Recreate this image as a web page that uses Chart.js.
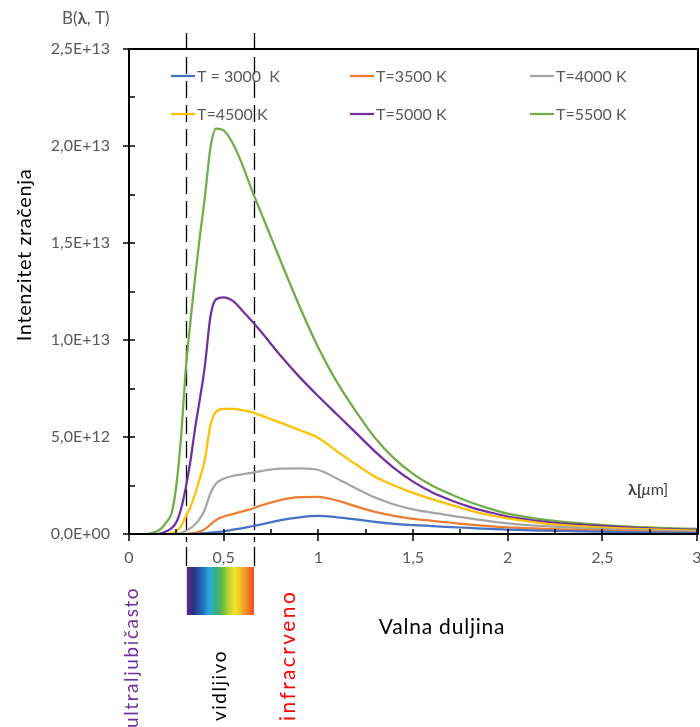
<!DOCTYPE html>
<html>
<head>
<meta charset="utf-8">
<script src="https://cdn.jsdelivr.net/npm/chart.js@4.4.1/dist/chart.umd.min.js"></script>
<style>
html, body { margin: 0; padding: 0; background: #fff; }
#wrap { width: 700px; height: 727px; position: relative; }
</style>
</head>
<body>
<div id="wrap"><canvas id="planck"></canvas></div>
<script>
// wavelength in µm, intensities in units of 1E+12
const UNIT = 1e12;
const lambda = [0.1, 0.15, 0.175, 0.2, 0.225, 0.25, 0.275, 0.3, 0.325, 0.35, 0.375, 0.4, 0.43, 0.46, 0.5, 0.55, 0.6, 0.65, 0.7, 0.8, 0.9, 1.0, 1.1, 1.2, 1.3, 1.4, 1.5, 1.6, 1.7, 1.8, 1.9, 2.0, 2.2, 2.4, 2.6, 2.8, 3.0];

const t3000 = [null, null, null, null, null, null, null, null, 0, 0.01, 0.02, 0.04, 0.07, 0.1, 0.14, 0.22, 0.3, 0.4, 0.5, 0.72, 0.86, 0.93, 0.86, 0.75, 0.62, 0.52, 0.46, 0.41, 0.36, 0.31, 0.26, 0.22, 0.17, 0.13, 0.1, 0.07, 0.04];
const t3500 = [null, null, null, null, null, null, null, 0, 0.03, 0.06, 0.12, 0.25, 0.48, 0.72, 0.9, 1.03, 1.17, 1.3, 1.48, 1.75, 1.9, 1.92, 1.72, 1.42, 1.14, 0.93, 0.78, 0.68, 0.58, 0.48, 0.4, 0.34, 0.26, 0.2, 0.15, 0.11, 0.07];
const t4000 = [null, null, null, null, null, 0, 0.05, 0.15, 0.3, 0.5, 0.8, 1.25, 2.1, 2.6, 2.85, 3.0, 3.08, 3.15, 3.25, 3.37, 3.38, 3.3, 2.85, 2.35, 1.88, 1.52, 1.27, 1.1, 0.95, 0.8, 0.66, 0.55, 0.4, 0.29, 0.21, 0.16, 0.12];
const t4500 = [null, null, null, 0, 0.05, 0.15, 0.4, 0.9, 1.4, 2.1, 2.9, 3.8, 5.6, 6.3, 6.45, 6.45, 6.38, 6.28, 6.1, 5.74, 5.36, 4.95, 4.25, 3.58, 2.95, 2.5, 2.12, 1.8, 1.5, 1.22, 0.98, 0.8, 0.54, 0.39, 0.29, 0.22, 0.17];
const t5000 = [null, 0, 0.05, 0.15, 0.3, 0.6, 1.3, 2.4, 3.8, 5.5, 7.0, 8.6, 11.2, 12.1, 12.2, 12.0, 11.5, 10.97, 10.4, 9.2, 8.1, 7.1, 6.15, 5.2, 4.25, 3.4, 2.7, 2.15, 1.74, 1.4, 1.13, 0.9, 0.63, 0.47, 0.36, 0.27, 0.21];
const t5500 = [0, 0.15, 0.33, 0.65, 1.07, 2.5, 5.0, 8.5, 11.0, 13.3, 15.4, 17.3, 19.9, 20.9, 20.8, 20.1, 19.0, 17.7, 16.5, 14.1, 11.75, 9.6, 7.8, 6.3, 4.95, 3.9, 3.1, 2.5, 2.05, 1.65, 1.32, 1.05, 0.73, 0.54, 0.41, 0.32, 0.26];

const seriesNames = ['T = 3000  K', 'T=3500 K', 'T=4000 K', 'T=4500 K', 'T=5000 K', 'T=5500 K'];
const seriesData = [t3000, t3500, t4000, t4500, t5000, t5500];
const colors = ['#4472C4', '#ED7D31', '#A5A5A5', '#FFC000', '#7030A0', '#70AD47'];

const visibleRange = [0.3, 0.66];   // dashed lines
const yTicks = [0, 5, 10, 15, 20, 25];

const FONT = 'Lato, "Open Sans", sans-serif';
const GRAY = '#595959';

function sciLabel(v) {
    if (v === 0) return '0,0E+00';
    const e = Math.floor(Math.log10(v) + 1e-9);
    const m = v / Math.pow(10, e);
    return m.toFixed(1).replace('.', ',') + 'E+' + String(e).padStart(2, '0');
}

const datasets = seriesData.map((vals, i) => ({
    label: seriesNames[i],
    data: lambda.map((x, j) => ({ x: x, y: vals[j] === null ? null : vals[j] * UNIT })),
    borderColor: colors[i],
    backgroundColor: colors[i],
    borderWidth: 2.25,
    pointRadius: 0,
    cubicInterpolationMode: 'monotone',
    fill: false
}));

function vText(ctx, text, x, y, color, font, spacing) {
    ctx.save();
    ctx.translate(x, y);
    ctx.rotate(-Math.PI / 2);
    ctx.font = font;
    ctx.fillStyle = color;
    ctx.letterSpacing = spacing || '0px';
    ctx.textAlign = 'left';
    ctx.textBaseline = 'middle';
    ctx.fillText(text, 0, 0);
    ctx.restore();
}

const decor = {
    id: 'decor',
    beforeDatasetsDraw(chart) {
        const ctx = chart.ctx, xs = chart.scales.x;
        ctx.save();
        ctx.strokeStyle = '#000';
        ctx.lineWidth = 1.3;
        visibleRange.forEach(v => {
            const px = Math.round(xs.getPixelForValue(v)) + 0.5;
            ctx.setLineDash([17, 7]);
            ctx.beginPath();
            ctx.moveTo(px, 33);
            ctx.lineTo(px, 542);
            ctx.stroke();
            ctx.setLineDash([]);
            ctx.beginPath();
            ctx.moveTo(px, 547);
            ctx.lineTo(px, 566);
            ctx.stroke();
        });
        ctx.restore();
    },
    afterDatasetsDraw(chart) {
        const ctx = chart.ctx, a = chart.chartArea;
        const xs = chart.scales.x, ys = chart.scales.y;
        ctx.save();
        ctx.strokeStyle = '#000';
        // frame
        ctx.lineWidth = 2;
        ctx.strokeRect(a.left, a.top, a.right - a.left + 1, a.bottom - a.top);
        // y ticks
        ctx.lineWidth = 1.5;
        for (let v = 0; v <= 25; v += 2.5) {
            const py = Math.round(ys.getPixelForValue(v * UNIT));
            const major = v % 5 === 0;
            ctx.beginPath();
            ctx.moveTo(a.left + (major ? -6 : 0), py);
            ctx.lineTo(a.left + 6, py);
            ctx.stroke();
        }
        // x ticks
        for (let v = 0; v <= 3; v += 0.25) {
            const px = Math.round(xs.getPixelForValue(v));
            const major = Math.abs(v * 2 - Math.round(v * 2)) < 1e-6;
            ctx.beginPath();
            ctx.moveTo(px, a.bottom - 5);
            ctx.lineTo(px, a.bottom + (major ? 7 : 0));
            ctx.stroke();
        }
        ctx.restore();
    },
    afterDraw(chart) {
        const ctx = chart.ctx, xs = chart.scales.x;
        ctx.save();

        // legend, two rows of three
        const cols = [171, 350, 530], rows = [76, 114];
        ctx.font = '16px ' + FONT;
        ctx.textBaseline = 'middle';
        ctx.textAlign = 'left';
        seriesNames.forEach((name, i) => {
            const lx = cols[i % 3], ly = rows[Math.floor(i / 3)];
            ctx.strokeStyle = colors[i];
            ctx.lineWidth = 2.25;
            ctx.beginPath();
            ctx.moveTo(lx, ly);
            ctx.lineTo(lx + 24, ly);
            ctx.stroke();
            ctx.fillStyle = GRAY;
            ctx.fillText(name, lx + 26, ly + 1);
        });

        // axis captions
        ctx.fillStyle = GRAY;
        ctx.font = '17px ' + FONT;
        ctx.fillText('B(', 62, 19);
        let w = ctx.measureText('B(').width;
        ctx.font = 'bold 17px ' + FONT;
        ctx.fillText('λ', 62 + w, 19);
        w += ctx.measureText('λ').width;
        ctx.font = '17px ' + FONT;
        ctx.fillText(', T)', 62 + w, 19);

        ctx.fillStyle = '#404040';
        ctx.font = 'bold 16px ' + FONT;
        ctx.fillText('λ[', 628, 490);
        w = ctx.measureText('λ[').width;
        ctx.font = 'italic 16px ' + FONT;
        ctx.fillText('μ', 628 + w, 490);
        w += ctx.measureText('μ').width;
        ctx.font = '16px ' + FONT;
        ctx.fillText('m]', 628 + w, 490);

        ctx.fillStyle = '#000';
        ctx.font = '21px ' + FONT;
        ctx.letterSpacing = '0.8px';
        ctx.textAlign = 'center';
        ctx.fillText('Valna duljina', 442, 627);

        ctx.save();
        ctx.translate(25, 255);
        ctx.rotate(-Math.PI / 2);
        ctx.fillStyle = '#000';
        ctx.font = '20px ' + FONT;
        ctx.letterSpacing = '0.6px';
        ctx.textAlign = 'center';
        ctx.fillText('Intenzitet zračenja', 0, 0);
        ctx.restore();
        ctx.letterSpacing = '0px';

        // spectrum bar
        const x0 = xs.getPixelForValue(visibleRange[0]) + 1;
        const x1 = xs.getPixelForValue(visibleRange[1]);
        const g = ctx.createLinearGradient(x0, 0, x1, 0);
        g.addColorStop(0.0, '#5b2d8e');
        g.addColorStop(0.1, '#2e2f82');
        g.addColorStop(0.24, '#1f72bf');
        g.addColorStop(0.33, '#2aa7df');
        g.addColorStop(0.45, '#3bae7a');
        g.addColorStop(0.52, '#5cb947');
        g.addColorStop(0.62, '#b5d334');
        g.addColorStop(0.72, '#f4e52a');
        g.addColorStop(0.86, '#f29b27');
        g.addColorStop(1.0, '#ee4c23');
        ctx.fillStyle = g;
        ctx.fillRect(x0, 567, x1 - x0, 48);

        // region labels
        vText(ctx, 'ultraljubičasto', 132, 728, '#7030A0', '19px ' + FONT, '1.6px');
        vText(ctx, 'vidljivo', 220, 721, '#000', '19px ' + FONT, '1.5px');
        vText(ctx, 'infracrveno', 288, 721, '#FF0000', '21px ' + FONT, '2.4px');

        ctx.restore();
    }
};

new Chart(document.getElementById('planck'), {
    type: 'line',
    data: { datasets: datasets },
    options: {
        responsive: true,
        maintainAspectRatio: false,
        animation: false,
        layout: { padding: { top: 49, right: 3, bottom: 153, left: 0 } },
        plugins: {
            legend: { display: false },
            tooltip: { enabled: false }
        },
        scales: {
            x: {
                type: 'linear',
                min: 0,
                max: 3,
                grid: { display: false, drawTicks: false },
                border: { display: false },
                ticks: {
                    stepSize: 0.5,
                    padding: 14,
                    color: GRAY,
                    font: { family: FONT, size: 16 },
                    maxRotation: 0,
                    callback: v => String(v).replace('.', ',')
                },
                afterFit: s => { s.height = 40; s.paddingLeft = 0; s.paddingRight = 0; }
            },
            y: {
                min: 0,
                max: 25 * UNIT,
                grid: { display: false, drawTicks: false },
                border: { display: false },
                afterBuildTicks: s => { s.ticks = yTicks.map(v => ({ value: v * UNIT })); },
                ticks: {
                    padding: 19,
                    color: GRAY,
                    font: { family: FONT, size: 16 },
                    callback: v => sciLabel(v)
                },
                afterFit: s => { s.width = 129; s.paddingTop = 0; s.paddingBottom = 0; }
            }
        }
    },
    plugins: [decor]
});
</script>
</body>
</html>
